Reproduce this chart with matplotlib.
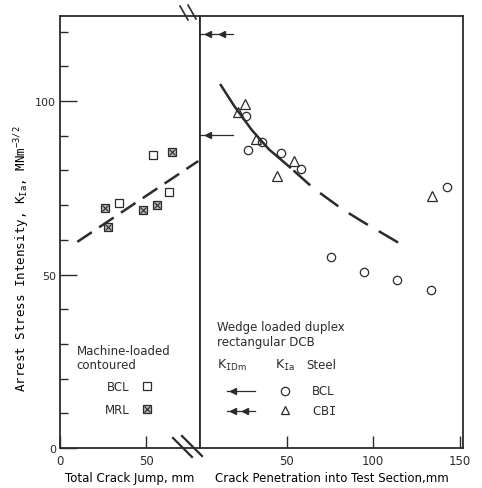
import matplotlib
matplotlib.use("Agg")
import matplotlib.pyplot as plt

ink = "#2b2b2b"
plt.rcParams['font.family'] = ['DejaVu Sans']
plt.rcParams['text.color'] = ink
plt.rcParams['axes.edgecolor'] = ink
plt.rcParams['xtick.color'] = ink
plt.rcParams['ytick.color'] = ink

# Left panel: machine-loaded contoured DCB (total crack jump, mm)
bcl_box_x = [34, 54, 63]
bcl_box_y = [70.6, 84.4, 73.7]
mrl_x = [26, 28, 48, 56, 65]
mrl_y = [69.2, 63.7, 68.6, 70.0, 85.3]
left_fit_x = [10, 80]
left_fit_y = [59.4, 82.7]

# Right panel: wedge loaded duplex rectangular DCB (crack penetration, mm)
cbi_x = [21.7, 26, 32.6, 44.3, 54.6, 134.3]
cbi_y = [96.9, 99.1, 89.0, 78.5, 82.6, 72.5]
bcl_x = [26.4, 27.8, 36, 47, 58.4, 75.9, 95, 114, 133.7, 143]
bcl_y = [95.6, 85.9, 88.1, 84.9, 80.4, 55.0, 50.8, 48.4, 45.5, 75.1]
curve_solid_x = [12, 20, 30, 40, 52]
curve_solid_y = [104.6, 98.4, 91.6, 86.0, 80.9]
curve_dash_x = [54, 65.5, 82, 95, 105, 120]
curve_dash_y = [80.0, 74.9, 68.9, 64.9, 62.0, 57.6]

# K_IDm levels (arrows on the axis)
kidm_bcl = 90.2
kidm_cbi = 119.3

K_Ia = r"$\mathregular{K}_{\mathtt{I}\mathregular{a}}$"
K_IDm = r"$\mathregular{K}_{\mathtt{I}\mathregular{Dm}}$"

fig = plt.figure(figsize=(4.82, 4.89), dpi=100)
axl = fig.add_axes([60/482, 1-449/489, 140/482, 432/489])
axr = fig.add_axes([200/482, 1-449/489, 263/482, 432/489])

for ax in (axl, axr):
    ax.set_ylim(0, 124.5)
    for s in ax.spines.values():
        s.set_linewidth(1.3)

axl.set_xlim(0, 81)
axr.set_xlim(0, 152)

# ticks
axl.set_yticks([0, 50, 100])
axl.set_yticks(range(10, 121, 10), minor=True)
axl.tick_params(axis='y', which='major', direction='in', length=12, width=1, labelsize=8, pad=3)
axl.tick_params(axis='y', which='minor', direction='in', length=6, width=1)
axl.set_xticks([0, 50])
axl.tick_params(axis='x', direction='in', length=9, width=1, labelsize=8.5, pad=4)
axr.set_yticks([])
axr.set_xticks([50, 100, 150])
axr.tick_params(axis='x', direction='in', length=9, width=1, labelsize=8.5, pad=4)

axl.set_xlabel("Total Crack Jump, mm", fontsize=8.5, labelpad=3)
axr.set_xlabel("Crack Penetration into Test Section,mm", fontsize=8.5, labelpad=3)
axl.set_ylabel(r"Arrest Stress Intensity, " + K_Ia + r", $\mathregular{MNm^{-3/2}}$",
               fontsize=9, family='DejaVu Sans Mono')
axl.yaxis.set_label_coords(-0.2, 0.44)

# left panel data
axl.plot(bcl_box_x, bcl_box_y, 's', ms=6, mfc='none', mec=ink, mew=0.9)
axl.plot(mrl_x, mrl_y, 's', ms=6, mfc='#bbbbbb', mec=ink, mew=0.9)
axl.plot(mrl_x, mrl_y, 'x', ms=4, mec=ink, mew=0.8)
axl.plot(left_fit_x, left_fit_y, color=ink, lw=1.8, dashes=(7, 3.5))

# right panel data
axr.plot(curve_solid_x, curve_solid_y, color=ink, lw=1.8)
axr.plot(curve_dash_x, curve_dash_y, color=ink, lw=1.8, dashes=(9, 5))
axr.plot(bcl_x, bcl_y, 'o', ms=6, mfc='none', mec=ink, mew=0.9)
axr.plot(cbi_x, cbi_y, '^', ms=6.5, mfc='none', mec=ink, mew=0.9)

# K_IDm arrows at the axis
axr.plot([0, 19], [kidm_bcl, kidm_bcl], color=ink, lw=0.9, clip_on=False)
axr.plot([4.5], [kidm_bcl], '<', ms=4, color=ink, clip_on=False)
axr.plot([0, 19], [kidm_cbi, kidm_cbi], color=ink, lw=0.9, clip_on=False)
axr.plot([4.5, 13], [kidm_cbi, kidm_cbi], '<', ms=4, color=ink, lw=0, clip_on=False)

# right legend
tr = axr.transAxes
axr.text(0.065, 0.296, "Wedge loaded duplex\nrectangular DCB", transform=tr,
         fontsize=8.5, va='top', ha='left', linespacing=1.15)
axr.text(0.065, 0.194, K_IDm, transform=tr, fontsize=9, va='center')
axr.text(0.285, 0.194, K_Ia, transform=tr, fontsize=9, va='center')
axr.text(0.405, 0.194, "Steel", transform=tr, fontsize=8.5, va='center')
axr.plot([0.103, 0.209], [0.132, 0.132], color=ink, lw=0.9, transform=tr)
axr.plot([0.125], [0.132], '<', ms=4, color=ink, transform=tr)
axr.plot([0.103, 0.209], [0.086, 0.086], color=ink, lw=0.9, transform=tr)
axr.plot([0.125, 0.170], [0.086, 0.086], '<', ms=4, color=ink, lw=0, transform=tr)
axr.plot([0.323], [0.132], 'o', ms=6, mfc='none', mec=ink, mew=0.9, transform=tr)
axr.plot([0.323], [0.088], '^', ms=6, mfc='none', mec=ink, mew=0.9, transform=tr)
axr.text(0.426, 0.132, "BCL", transform=tr, fontsize=8.5, va='center')
axr.text(0.426, 0.086, r"CB$\mathtt{I}$", transform=tr, fontsize=8.5, va='center')

# left legend
tl = axl.transAxes
axl.text(0.12, 0.24, "Machine-loaded\ncontoured", transform=tl, fontsize=8.5,
         va='top', ha='left', linespacing=1.1)
axl.text(0.50, 0.1435, "BCL", transform=tl, fontsize=8.5, va='center', ha='right')
axl.text(0.50, 0.09, "MRL", transform=tl, fontsize=8.5, va='center', ha='right')
axl.plot([0.62], [0.1435], 's', ms=6, mfc='none', mec=ink, mew=0.9, transform=tl)
axl.plot([0.62], [0.09], 's', ms=6, mfc='#bbbbbb', mec=ink, mew=0.9, transform=tl)
axl.plot([0.62], [0.09], 'x', ms=4, mec=ink, mew=0.8, transform=tl)

# axis break marks
tf = fig.transFigure
def px(x, y):
    return x / 482, 1 - y / 489
for (x0, y0, x1, y1) in [(180, 7, 188, 21), (188, 6, 196, 20)]:
    a, b = px(x0, y0)
    c, d = px(x1, y1)
    fig.add_artist(plt.Line2D([a, c], [b, d], color=ink, lw=1.2, transform=tf))
for (x0, y0, x1, y1) in [(173, 439, 192, 458), (182, 437, 202, 457)]:
    a, b = px(x0, y0)
    c, d = px(x1, y1)
    fig.add_artist(plt.Line2D([a, c], [b, d], color=ink, lw=1.6, transform=tf))

fig.savefig("out.png", dpi=100)
